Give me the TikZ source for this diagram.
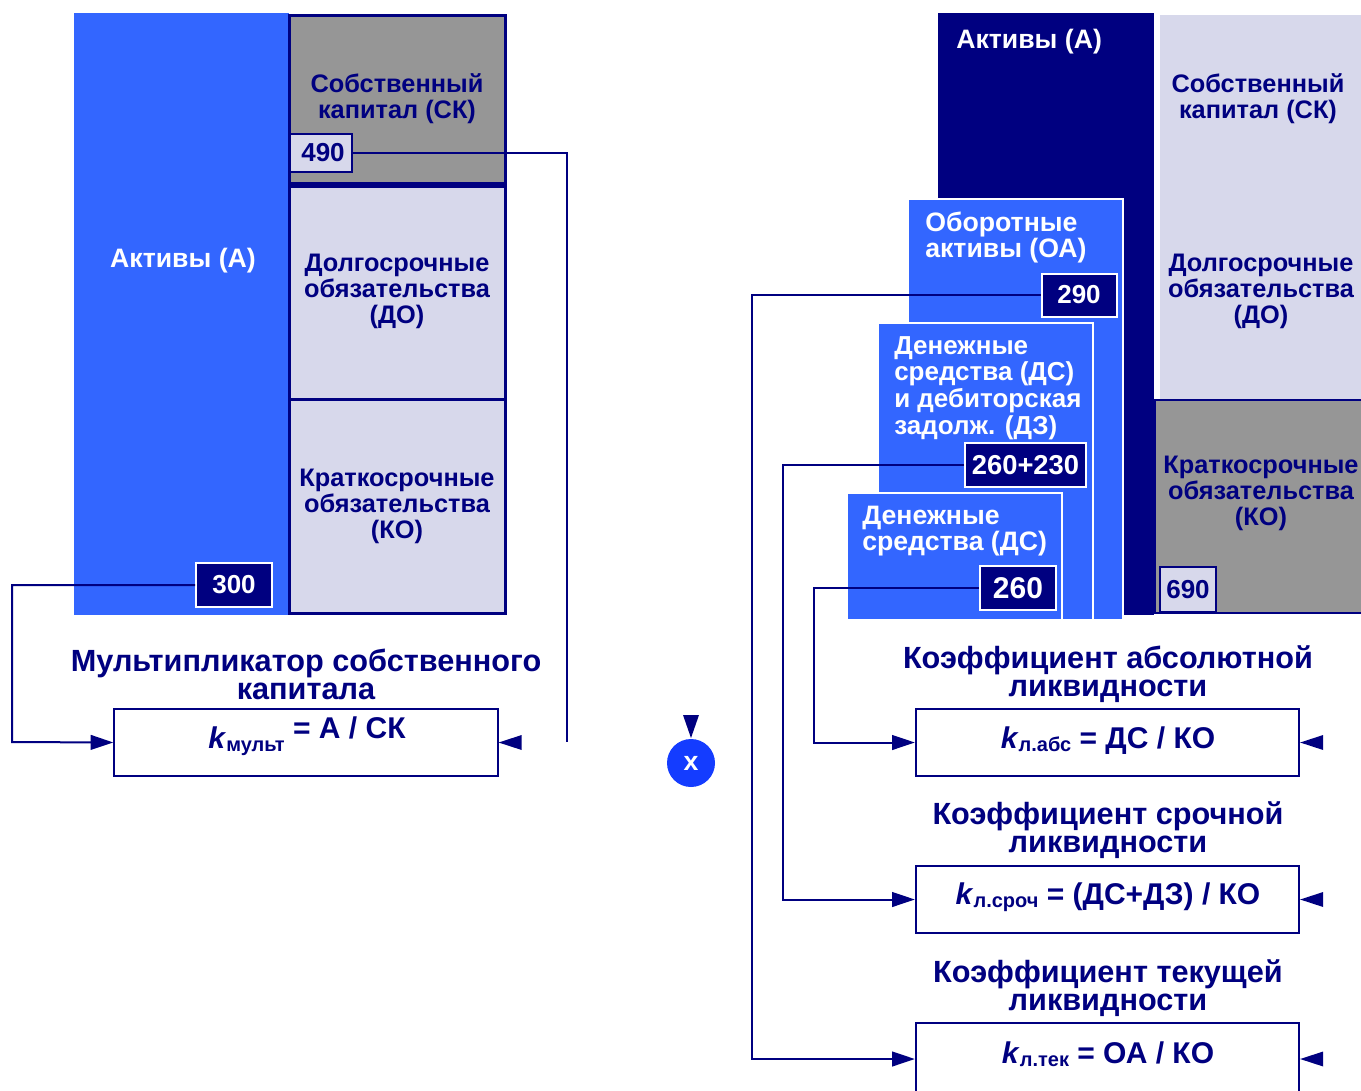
\documentclass[tikz,border=0pt]{standalone}
\usepackage{fontspec}
\setmainfont{Liberation Sans}
\usetikzlibrary{arrows.meta}
\definecolor{navy}{RGB}{0,0,128}
\definecolor{blu}{RGB}{51,102,255}
\definecolor{lav}{RGB}{215,216,235}
\definecolor{gry}{RGB}{150,150,150}
\definecolor{cblu}{RGB}{20,60,255}
\newcommand\mysubtxt[1]{\raisebox{-2pt}{\fontsize{15}{15}\selectfont #1}}
\begin{document}
\begin{tikzpicture}[x=0.75pt,y=-0.75pt,
  lbl/.style={font=\bfseries\fontsize{19}{19.5}\selectfont, text=navy, align=center, inner sep=0pt},
  wlbl/.style={lbl, font=\bfseries\fontsize{20}{19.5}\selectfont, text=white},
  ttl/.style={font=\bfseries\fontsize{23}{21}\selectfont, text=navy, align=center, inner sep=0pt},
  ftxt/.style={font=\bfseries\fontsize{22.5}{22.5}\selectfont, text=navy, inner sep=0pt},
  valn/.style={draw=white, line width=1.5pt, fill=navy, text=white, inner sep=0pt,
    font=\bfseries\fontsize{19.5}{19.5}\selectfont},
  vall/.style={draw=navy, line width=1.5pt, fill=lav, text=navy, inner sep=0pt,
    font=\bfseries\fontsize{19.5}{19.5}\selectfont},
  fbox/.style={draw=navy, line width=1.5pt, fill=white, inner sep=0pt,
    minimum width=287.5pt, minimum height=50.5pt},
  part/.style={draw=navy, line width=2.25pt},
  wpart/.style={draw=white, line width=1.5pt, fill=blu},
  conn/.style={draw=navy, line width=1.5pt},
  arr/.style={conn, -{Triangle[length=17pt,width=11pt]}}
]
\clip (0,0) rectangle (1361,1090);
\fill[white] (0,0) rectangle (1361,1090);

% ---------------- left balance ----------------
\fill[blu] (74,13) rectangle (289,615);
\path[part, fill=gry] (289,15) rectangle (505,183);
\path[part, fill=lav] (289,186) rectangle (505,399);
\path[part, fill=lav] (289,399) rectangle (505,613);
\node[wlbl] (aL) at (183,261) {Активы (А)};
\node[lbl] (skL) at (397,99) {Собственный\\капитал (СК)};
\node[lbl] (doL) at (397,291) {Долгосрочные\\обязательства\\(ДО)};
\node[lbl] (koL) at (397,506) {Краткосрочные\\обязательства\\(КО)};
\node[vall, minimum width=46.5pt, minimum height=28.5pt] (v490) at (321,153) {\hspace*{3pt}490};
\node[valn, minimum width=57pt, minimum height=33pt] (v300) at (234,585) {300};

\node[ttl] (tmultT) at (306,674) {Мультипликатор собственного\\капитала};
\node[fbox] (fmult) at (306,742.5) {};
\node[ftxt] (tmult) at (307,736) {\textit{k}\mysubtxt{мульт} \raisebox{7.5pt}{= А / СК}};

\coordinate (c490) at (567,742);
\coordinate (c300) at (12,742);
\draw[conn] (v490.east) -| (c490);
\draw[arr] (v300.west) -| (c300) -- (fmult.west);
\fill[navy] (fmult.east) -- ++(23,-7.5) -- ++(0,15) -- cycle;

% ---------------- multiply sign ----------------
\node[circle, fill=cblu, minimum size=36pt, inner sep=0pt, text=white,
  font=\bfseries\fontsize{20}{20}\selectfont] (mul) at (691,763) {x};
\fill[navy] (683,715) -- (699,715) -- (691,738) -- cycle;

% ---------------- right balance ----------------
\fill[navy] (938,13) rectangle (1154,615);
\fill[lav] (1160,15) rectangle (1370,400);
\path[draw=navy, line width=1.5pt, fill=gry] (1155,400) rectangle (1375,613);
\path[wpart] (908,199) rectangle (1123,620);
\path[wpart] (878,323) rectangle (1093,620);
\path[wpart] (847,493) rectangle (1062,620);

\node[wlbl, anchor=west] (aR) at (956,42) {Активы (А)};
\node[lbl] (skR) at (1258,99) {Собственный\\капитал (СК)};
\node[lbl] (doR) at (1261,291) {Долгосрочные\\обязательства\\(ДО)};
\node[lbl] (koR) at (1261,493) {Краткосрочные\\обязательства\\(КО)};
\node[wlbl, align=left, anchor=west] (oaT) at (925,237) {Оборотные\\активы (ОА)};
\node[wlbl, align=left, anchor=west, font=\bfseries\fontsize{19.5}{20}\selectfont] (dzT) at (894,388) {Денежные\\средства (ДС)\\и дебиторская\\задолж. (ДЗ)};
\node[wlbl, align=left, anchor=west] (dsT) at (862,531) {Денежные\\средства (ДС)};

\node[valn, minimum width=56.25pt, minimum height=32.25pt] (v290) at (1079,295) {290};
\node[valn, minimum width=90.75pt, minimum height=33pt,
  font=\bfseries\fontsize{20.5}{20.5}\selectfont] (v490b) at (1025.5,465) {260+230};
\node[valn, minimum width=57pt, minimum height=33pt,
  font=\bfseries\fontsize{22.5}{22.5}\selectfont] (v260) at (1018,588) {260};
\node[vall, minimum width=42pt, minimum height=33.75pt] (v690) at (1188,589.5) {690};

% ---------------- ratios ----------------
\node[ttl] (tabsT) at (1108,674) {Коэффициент абсолютной\\ликвидности};
\node[fbox] (fabs) at (1107.5,742.5) {};
\node[ftxt] (tabs) at (1108,741) {\textit{k}\mysubtxt{л.абс} = ДС / КО};

\node[ttl] (tsrT) at (1108,830) {Коэффициент срочной\\ликвидности};
\node[fbox] (fsr) at (1107.5,899.5) {};
\node[ftxt] (tsr) at (1108,897) {\textit{k}\mysubtxt{л.сроч} = (ДС+ДЗ) / КО};

\node[ttl] (ttekT) at (1108,988) {Коэффициент текущей\\ликвидности};
\node[fbox, minimum height=54pt] (ftek) at (1107.5,1059) {};
\node[ftxt] (ttek) at (1108,1054) {\textit{k}\mysubtxt{л.тек} = ОА / КО};

\coordinate (c290) at (752,1059);
\coordinate (c230) at (783,899.5);
\coordinate (c260) at (814,742.5);
\draw[arr] (v290.west) -| (c290) -- (ftek.west);
\draw[arr] (v490b.west) -| (c230) -- (fsr.west);
\draw[arr] (v260.west) -| (c260) -- (fabs.west);

\fill[navy] (fabs.east) -- ++(23,-7.5) -- ++(0,15) -- cycle;
\fill[navy] (fsr.east) -- ++(23,-7.5) -- ++(0,15) -- cycle;
\fill[navy] (ftek.east) -- ++(23,-7.5) -- ++(0,15) -- cycle;
\end{tikzpicture}
\end{document}
